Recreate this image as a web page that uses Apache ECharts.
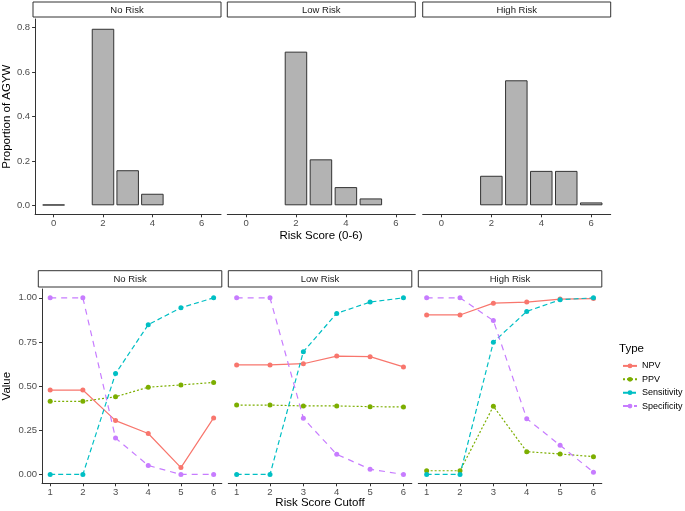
<!DOCTYPE html>
<html>
<head>
<meta charset="utf-8">
<script src="https://cdn.jsdelivr.net/npm/echarts@6/dist/echarts.min.js"></script>
<style>
html,body{margin:0;padding:0;background:#fff;}
#chart{width:685px;height:511px;}
</style>
</head>
<body>
<div id="chart"></div>
<script>
// ---------- data ----------
const panels = ['No Risk', 'Low Risk', 'High Risk'];
const riskScores = [0, 1, 2, 3, 4, 5, 6];
const propNoRisk = [0.003, null, 0.795, 0.158, 0.052, null, null];
const propLowRisk = [null, null, 0.692, 0.207, 0.082, 0.031, null];
const propHighRisk = [null, null, 0.133, 0.563, 0.155, 0.155, 0.013];
const topXTicks = [0, 2, 4, 6];
const topYTicks = [0, 0.2, 0.4, 0.6, 0.8];

const cutoffs = [1, 2, 3, 4, 5, 6];
const types = ['NPV', 'PPV', 'Sensitivity', 'Specificity'];
const npvNoRisk = [0.478, 0.478, 0.305, 0.232, 0.039, 0.320];
const ppvNoRisk = [0.414, 0.414, 0.440, 0.494, 0.507, 0.521];
const sensNoRisk = [0, 0, 0.571, 0.848, 0.944, 1.0];
const specNoRisk = [1.0, 1.0, 0.206, 0.051, 0, 0];
const npvLowRisk = [0.620, 0.620, 0.627, 0.670, 0.667, 0.609];
const ppvLowRisk = [0.393, 0.393, 0.388, 0.388, 0.384, 0.382];
const sensLowRisk = [0, 0, 0.695, 0.912, 0.976, 1.0];
const specLowRisk = [1.0, 1.0, 0.318, 0.114, 0.030, 0.0];
const npvHighRisk = [0.903, 0.903, 0.970, 0.976, 0.993, 0.996];
const ppvHighRisk = [0.021, 0.021, 0.386, 0.129, 0.116, 0.101];
const sensHighRisk = [0, 0, 0.749, 0.923, 0.989, 1.0];
const specHighRisk = [1.0, 1.0, 0.871, 0.316, 0.165, 0.013];
const bottomXTicks = [1, 2, 3, 4, 5, 6];
const bottomYTicks = [0, 0.25, 0.5, 0.75, 1.0];

// ---------- build ----------
const propByPanel = [propNoRisk, propLowRisk, propHighRisk];
const metricsByPanel = [
  [npvNoRisk, ppvNoRisk, sensNoRisk, specNoRisk],
  [npvLowRisk, ppvLowRisk, sensLowRisk, specLowRisk],
  [npvHighRisk, ppvHighRisk, sensHighRisk, specHighRisk]
];
const typeColors = ['#F8766D', '#7CAE00', '#00BFC4', '#C77CFF'];
const typeDash = ['solid', [2, 2], [5, 3], [6, 5]];

const FONT = '"Liberation Sans", Arial, Helvetica, sans-serif';
const axisCol = '#333333';
const labelCol = '#4D4D4D';
const TICK_FS = 9.5, TITLE_FS = 11.5, STRIP_FS = 9.5;

const topLefts = [33, 227.3, 422.7];
const topW = 188, topTop = 19, topH = 195.3;
const botLefts = [38.3, 228.3, 418.3];
const botW = 183.5, botTop = 289, botH = 194.3;

const grids = [], xAxes = [], yAxes = [], series = [], graphics = [];

function stripAt(x, y, w, h, text) {
  graphics.push({type: 'rect', shape: {x: x, y: y, width: w, height: h},
    style: {fill: '#fff', stroke: axisCol, lineWidth: 1}, silent: true});
  graphics.push({type: 'text', style: {text: text, x: x + w / 2, y: y + h / 2 + 0.5,
    textAlign: 'center', textVerticalAlign: 'middle', font: STRIP_FS + 'px ' + FONT, fill: '#1A1A1A'}, silent: true});
}

panels.forEach((p, i) => {
  grids.push({left: topLefts[i], top: topTop, width: topW, height: topH, containLabel: false});
  const gi = grids.length - 1;
  xAxes.push({
    gridIndex: gi, type: 'value', min: -0.75, max: 6.78,
    axisLine: {show: true, onZero: false, lineStyle: {color: axisCol, width: 1}},
    axisTick: {show: true, length: 3, customValues: topXTicks, lineStyle: {color: axisCol}},
    axisLabel: {customValues: topXTicks, fontSize: TICK_FS, color: labelCol, fontFamily: FONT, margin: 4},
    splitLine: {show: false}
  });
  yAxes.push(i === 0 ? {
    gridIndex: gi, type: 'value', min: -0.0405, max: 0.839,
    name: 'Proportion of AGYW', nameLocation: 'middle', nameGap: 22,
    nameTextStyle: {fontSize: TITLE_FS, color: '#000', fontFamily: FONT},
    axisLine: {show: true, onZero: false, lineStyle: {color: axisCol, width: 1}},
    axisTick: {show: true, length: 3, customValues: topYTicks, lineStyle: {color: axisCol}},
    axisLabel: {customValues: topYTicks, fontSize: TICK_FS, color: labelCol, fontFamily: FONT, margin: 5,
      formatter: v => v.toFixed(1)},
    splitLine: {show: false}
  } : {gridIndex: gi, type: 'value', min: -0.0405, max: 0.839, show: false, splitLine: {show: false}});
  const barData = [];
  riskScores.forEach((s, k) => { if (propByPanel[i][k] !== null) barData.push([s, propByPanel[i][k]]); });
  series.push({
    type: 'bar', xAxisIndex: gi, yAxisIndex: gi, data: barData, barWidth: 22.5,
    itemStyle: {color: '#B3B3B3', borderColor: '#333333', borderWidth: 1}, silent: true
  });
  stripAt(topLefts[i], 2, topW, 15, p);
});

panels.forEach((p, i) => {
  grids.push({left: botLefts[i], top: botTop, width: botW, height: botH, containLabel: false});
  const gi = grids.length - 1;
  xAxes.push({
    gridIndex: gi, type: 'value', min: 0.75, max: 6.25,
    axisLine: {show: true, onZero: false, lineStyle: {color: axisCol, width: 1}},
    axisTick: {show: true, length: 3, customValues: bottomXTicks, lineStyle: {color: axisCol}},
    axisLabel: {customValues: bottomXTicks, fontSize: TICK_FS, color: labelCol, fontFamily: FONT, margin: 4},
    splitLine: {show: false}
  });
  yAxes.push(i === 0 ? {
    gridIndex: gi, type: 'value', min: -0.05, max: 1.05,
    name: 'Value', nameLocation: 'middle', nameGap: 29,
    nameTextStyle: {fontSize: TITLE_FS, color: '#000', fontFamily: FONT},
    axisLine: {show: true, onZero: false, lineStyle: {color: axisCol, width: 1}},
    axisTick: {show: true, length: 3, customValues: bottomYTicks, lineStyle: {color: axisCol}},
    axisLabel: {customValues: bottomYTicks, fontSize: TICK_FS, color: labelCol, fontFamily: FONT, margin: 5,
      formatter: v => v.toFixed(2)},
    splitLine: {show: false}
  } : {gridIndex: gi, type: 'value', min: -0.05, max: 1.05, show: false, splitLine: {show: false}});
  types.forEach((t, k) => {
    series.push({
      name: t, type: 'line', xAxisIndex: gi, yAxisIndex: gi,
      data: cutoffs.map((c, j) => [c, metricsByPanel[i][k][j]]),
      symbol: 'circle', symbolSize: 5, showSymbol: true,
      lineStyle: {color: typeColors[k], width: 1.2, type: typeDash[k]},
      itemStyle: {color: typeColors[k]}, silent: true, clip: false
    });
  });
  stripAt(botLefts[i], 270.7, botW, 16.3, p);
});

graphics.push({type: 'text', style: {text: 'Risk Score (0-6)', x: 321, y: 236,
  textAlign: 'center', textVerticalAlign: 'middle', font: TITLE_FS + 'px ' + FONT, fill: '#000'}, silent: true});
graphics.push({type: 'text', style: {text: 'Risk Score Cutoff', x: 320, y: 503,
  textAlign: 'center', textVerticalAlign: 'middle', font: TITLE_FS + 'px ' + FONT, fill: '#000'}, silent: true});
graphics.push({type: 'text', style: {text: 'Type', x: 619, y: 349,
  textAlign: 'left', textVerticalAlign: 'middle', font: TITLE_FS + 'px ' + FONT, fill: '#000'}, silent: true});

const chart = echarts.init(document.getElementById('chart'), null, {renderer: 'canvas'});
chart.setOption({
  animation: false,
  backgroundColor: '#ffffff',
  grid: grids,
  xAxis: xAxes,
  yAxis: yAxes,
  series: series,
  legend: {
    data: types, orient: 'vertical', left: 622, top: 361.4, padding: 0,
    itemWidth: 14, itemHeight: 6, itemGap: 4.4,
    textStyle: {fontSize: 9, color: '#000', fontFamily: FONT, lineHeight: 6},
    selectedMode: false
  },
  graphic: graphics
});
</script>
</body>
</html>
